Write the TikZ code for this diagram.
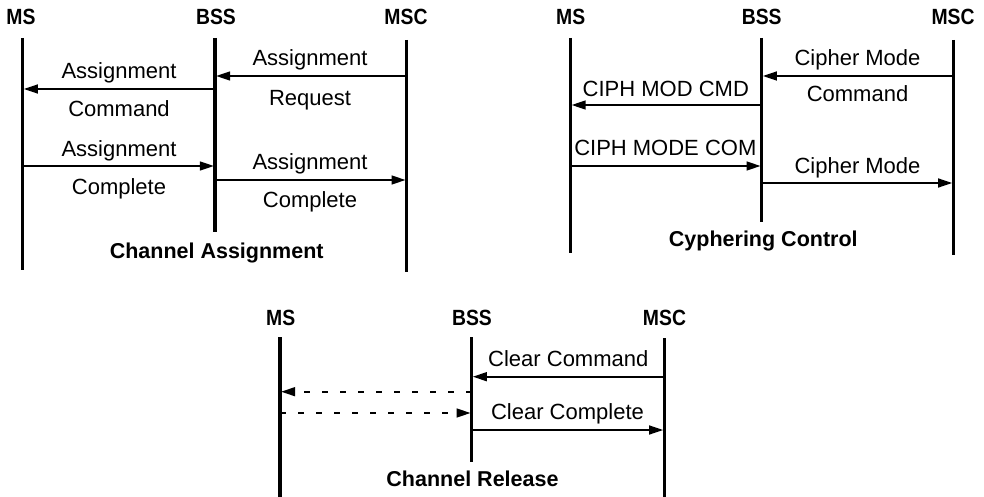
\documentclass[tikz,border=0pt]{standalone}
\usepackage{fontspec}
\usepackage{graphicx}
\setmainfont{Liberation Sans}
\usetikzlibrary{arrows.meta}
\newcommand{\hdrtext}[1]{\scalebox{0.88}[1]{#1}}
\tikzset{
  lifeline/.style={line width=3.2pt},
  msg/.style={line width=1.6pt, -{Triangle[length=14pt,width=9pt]}, shorten >=1.2pt},
  dmsg/.style={msg, dash pattern=on 6pt off 12pt},
  hdr/.style={font=\fontsize{22}{22}\selectfont\bfseries, anchor=base, inner sep=0pt},
  lbl/.style={font=\fontsize{22}{22}\selectfont, anchor=base, inner sep=0pt},
  ttl/.style={font=\fontsize{21.5}{21.5}\selectfont\bfseries, anchor=base, inner sep=0pt},
}
\begin{document}
\begin{tikzpicture}[x=1pt,y=-1pt]
\useasboundingbox[fill=white] (0,0) rectangle (984,497);

% ---------------- Panel 1: Channel Assignment ----------------
\node[hdr] (hms1) at (21,24.5) {\hdrtext{MS}};
\node[hdr] (hbss1) at (216,24.5) {\hdrtext{BSS}};
\node[hdr] (hmsc1) at (406,24.5) {\hdrtext{MSC}};
\coordinate (ms1t) at (22.7,38);  \coordinate (ms1b) at (22.7,270);
\coordinate (bss1t) at (215,38);  \coordinate (bss1b) at (215,232);
\coordinate (msc1t) at (406.7,40); \coordinate (msc1b) at (406.7,272);
\draw[lifeline] (ms1t) -- (ms1b);
\draw[lifeline] (bss1t) -- (bss1b);
\draw[lifeline] (msc1t) -- (msc1b);

\draw[msg] (msc1t |- 0,76) -- (bss1t |- 0,76);
\node[lbl] (l1a) at (310,65.7) {Assignment};
\node[lbl] (l1b) at (310,106) {Request};

\draw[msg] (bss1t |- 0,89) -- (ms1t |- 0,89);
\node[lbl] (l1c) at (119,79) {Assignment};
\node[lbl] (l1d) at (119,116.7) {Command};

\draw[msg] (ms1t |- 0,166) -- (bss1t |- 0,166);
\node[lbl] (l1e) at (119,156.7) {Assignment};
\node[lbl] (l1f) at (119,194.3) {Complete};

\draw[msg] (bss1t |- 0,180) -- (msc1t |- 0,180);
\node[lbl] (l1g) at (310,169.3) {Assignment};
\node[lbl] (l1h) at (310,207.3) {Complete};

\node[ttl] (t1) at (216.7,258.3) {Channel Assignment};

% ---------------- Panel 2: Cyphering Control ----------------
\node[hdr] (hms2) at (570.7,25) {\hdrtext{MS}};
\node[hdr] (hbss2) at (761.7,25) {\hdrtext{BSS}};
\node[hdr] (hmsc2) at (953,25) {\hdrtext{MSC}};
\coordinate (ms2t) at (570.5,38);  \coordinate (ms2b) at (570.5,253);
\coordinate (bss2t) at (761.7,38); \coordinate (bss2b) at (761.7,222);
\coordinate (msc2t) at (953.3,40); \coordinate (msc2b) at (953.3,255);
\draw[lifeline] (ms2t) -- (ms2b);
\draw[lifeline] (bss2t) -- (bss2b);
\draw[lifeline] (msc2t) -- (msc2b);

\draw[msg] (msc2t |- 0,76) -- (bss2t |- 0,76);
\node[lbl] (l2a) at (857.5,65.7) {Cipher Mode};
\node[lbl] (l2b) at (857.5,101.7) {Command};

\draw[msg] (bss2t |- 0,105) -- (ms2t |- 0,105);
\node[lbl] (l2c) at (665.8,96.7) {CIPH MOD CMD};

\draw[msg] (ms2t |- 0,166) -- (bss2t |- 0,166);
\node[lbl] (l2d) at (665.3,155.7) {CIPH MODE COM};

\draw[msg] (bss2t |- 0,183) -- (msc2t |- 0,183);
\node[lbl] (l2e) at (857.5,173.3) {Cipher Mode};

\node[ttl] (t2) at (763.3,246.7) {Cyphering Control};

% ---------------- Panel 3: Channel Release ----------------
\node[hdr] (hms3) at (280.7,325) {\hdrtext{MS}};
\node[hdr] (hbss3) at (472,325) {\hdrtext{BSS}};
\node[hdr] (hmsc3) at (664.5,325) {\hdrtext{MSC}};
\coordinate (ms3t) at (280,337);   \coordinate (ms3b) at (280,497);
\coordinate (bss3t) at (471.7,337); \coordinate (bss3b) at (471.7,462);
\coordinate (msc3t) at (664.3,338); \coordinate (msc3b) at (664.3,497);
\draw[lifeline] (ms3t) -- (ms3b);
\draw[lifeline] (bss3t) -- (bss3b);
\draw[lifeline] (msc3t) -- (msc3b);

\draw[msg] (msc3t |- 0,376.7) -- (bss3t |- 0,376.7);
\node[lbl] (l3a) at (568.3,366) {Clear Command};

\draw[dmsg] (bss3t |- 0,391.7) -- (ms3t |- 0,391.7);
\draw[dmsg] (ms3t |- 0,413) -- (bss3t |- 0,413);

\node[lbl] (l3b) at (567.5,419.3) {Clear Complete};
\draw[msg] (bss3t |- 0,430) -- (msc3t |- 0,430);

\node[ttl] (t3) at (472.5,486) {Channel Release};
\end{tikzpicture}
\end{document}
